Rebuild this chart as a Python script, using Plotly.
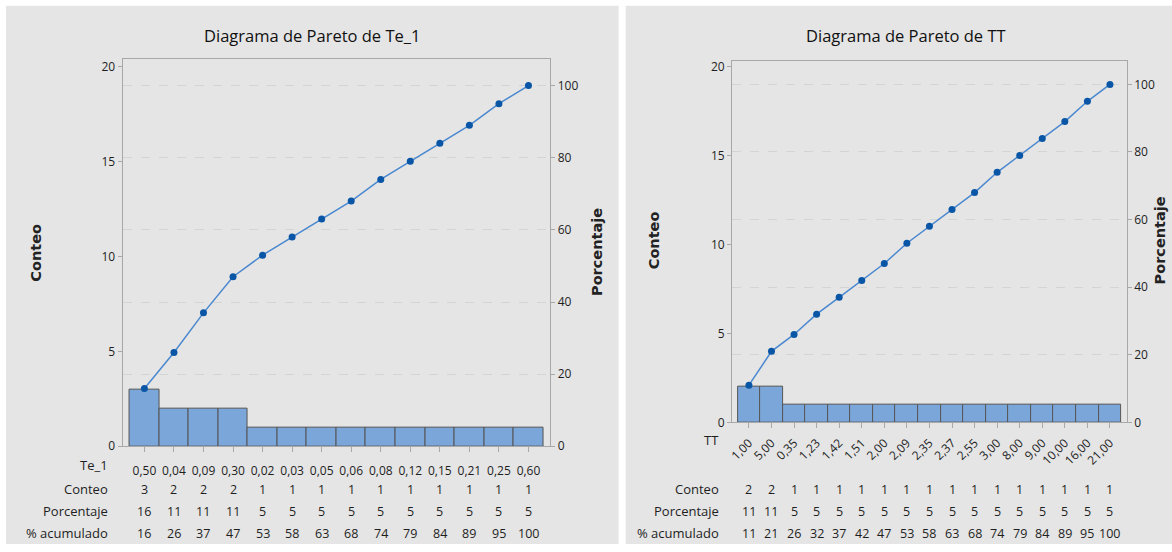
import plotly.graph_objects as go

W, H = 1172, 552

# ---------------- data ----------------
te1_labels = ['0,50', '0,04', '0,09', '0,30', '0,02', '0,03', '0,05', '0,06',
              '0,08', '0,12', '0,15', '0,21', '0,25', '0,60']
te1_counts = [3, 2, 2, 2, 1, 1, 1, 1, 1, 1, 1, 1, 1, 1]
te1_pct = [16, 11, 11, 11, 5, 5, 5, 5, 5, 5, 5, 5, 5, 5]
te1_cum = [16, 26, 37, 47, 53, 58, 63, 68, 74, 79, 84, 89, 95, 100]

tt_labels = ['1,00', '5,00', '0,35', '1,23', '1,42', '1,51', '2,00', '2,09', '2,35',
             '2,37', '2,55', '3,00', '8,00', '9,00', '10,00', '16,00', '21,00']
tt_counts = [2, 2, 1, 1, 1, 1, 1, 1, 1, 1, 1, 1, 1, 1, 1, 1, 1]
tt_pct = [11, 11, 5, 5, 5, 5, 5, 5, 5, 5, 5, 5, 5, 5, 5, 5, 5]
tt_cum = [11, 21, 26, 32, 37, 42, 47, 53, 58, 63, 68, 74, 79, 84, 89, 95, 100]

pct_ticks = [0, 20, 40, 60, 80, 100]
count_ticks = [0, 5, 10, 15, 20]

# ---------------- style ----------------
BG = '#e5e5e5'
BAR = '#7ba6da'
BAR_EDGE = '#555555'
LINE = '#4a88cf'
MARK = '#0a56a6'
AXIS = '#a8a8a8'
TXT = '#1e1e1e'
FONT = 'Open Sans'
BOLD = 'DejaVu Sans'


def cx(x):
    # layout position (pixels) -> corrected pixel
    return x + 5 * (x - 586) / 586


def cy(y):
    return (y - 2.3) / 0.981


def px(x):
    return cx(x) / W


def py(y):
    return 1 - cy(y) / H


fig = go.Figure()

# left chart
fig.add_trace(go.Bar(x=list(range(len(te1_labels))), y=te1_counts, width=1,
                     marker=dict(color=BAR, line=dict(color=BAR_EDGE, width=1)),
                     xaxis='x', yaxis='y', showlegend=False))
fig.add_trace(go.Scatter(x=list(range(len(te1_labels))), y=te1_cum, mode='lines+markers',
                         line=dict(color=LINE, width=1.5),
                         marker=dict(color=MARK, size=7),
                         xaxis='x', yaxis='y2', showlegend=False))
# right chart
fig.add_trace(go.Bar(x=list(range(len(tt_labels))), y=tt_counts, width=1,
                     marker=dict(color=BAR, line=dict(color=BAR_EDGE, width=1)),
                     xaxis='x2', yaxis='y3', showlegend=False))
fig.add_trace(go.Scatter(x=list(range(len(tt_labels))), y=tt_cum, mode='lines+markers',
                         line=dict(color=LINE, width=1.5),
                         marker=dict(color=MARK, size=7),
                         xaxis='x2', yaxis='y4', showlegend=False))

# plot boxes (pixel positions) and where the "20" count tick sits
L_TOP, L_BOT, L_LEFT, L_RIGHT, L_20 = 58, 446, 122, 548, 66
R_TOP, R_BOT, R_LEFT, R_RIGHT, R_20 = 60, 422, 729, 1122, 66
L_CMAX = 20 * (L_BOT - L_TOP) / (L_BOT - L_20)
R_CMAX = 20 * (R_BOT - R_TOP) / (R_BOT - R_20)

tickfont = dict(family=FONT, size=12, color=TXT)

common_x = dict(showline=True, linecolor=AXIS, linewidth=1, mirror=True,
                ticks='outside', ticklen=5, tickcolor=AXIS, showgrid=False,
                zeroline=False, tickfont=tickfont)
common_y = dict(showline=True, linecolor=AXIS, linewidth=1, ticks='outside',
                ticklen=4, tickcolor=AXIS, zeroline=False, tickfont=tickfont)

fig.update_layout(
    width=W, height=H,
    margin=dict(l=0, r=0, t=0, b=0),
    paper_bgcolor='white', plot_bgcolor='white',
    bargap=0,
    xaxis=dict(common_x, domain=[px(L_LEFT), px(L_RIGHT)], anchor='y',
               range=[-0.74, len(te1_labels) - 0.26],
               tickvals=list(range(len(te1_labels))), ticktext=te1_labels,
               ticklabelstandoff=8),
    yaxis=dict(common_y, domain=[py(L_BOT), py(L_TOP)], anchor='x',
               range=[0, L_CMAX], tickvals=count_ticks, showgrid=False),
    yaxis2=dict(common_y, overlaying='y', side='right', anchor='x',
                range=[0, L_CMAX / sum(te1_counts) * 100], tickvals=pct_ticks,
                showgrid=True, gridcolor='#d4d4d4', griddash='dash', gridwidth=1),
    xaxis2=dict(common_x, domain=[px(R_LEFT), px(R_RIGHT)], anchor='y3',
                range=[-0.745, len(tt_labels) - 0.255],
                tickvals=list(range(len(tt_labels))), ticktext=tt_labels,
                tickangle=-45, ticklabelstandoff=3),
    yaxis3=dict(common_y, domain=[py(R_BOT), py(R_TOP)], anchor='x2',
                range=[0, R_CMAX], tickvals=count_ticks, showgrid=False),
    yaxis4=dict(common_y, overlaying='y3', side='right', anchor='x2',
                range=[0, R_CMAX / sum(tt_counts) * 100], tickvals=pct_ticks,
                showgrid=True, gridcolor='#d4d4d4', griddash='dash', gridwidth=1),
)

# gray panels
fig.add_shape(type='rect', xref='paper', yref='paper', layer='below',
              x0=px(6), x1=px(616), y0=0, y1=py(5),
              fillcolor=BG, line=dict(width=0))
fig.add_shape(type='rect', xref='paper', yref='paper', layer='below',
              x0=px(623), x1=1, y0=0, y1=py(5),
              fillcolor=BG, line=dict(width=0))

ann = []


def txt(text, x, y, font, xref='paper', xanchor='center', angle=0):
    ann.append(dict(text=text, x=x, y=y, xref=xref, yref='paper', xanchor=xanchor,
                    yanchor='middle', textangle=angle, showarrow=False, font=font))


# titles
tfont = dict(family=FONT, size=16.5, color='#111')
txt('Diagrama de Pareto de Te_1', px(311), py(35), tfont)
txt('Diagrama de Pareto de TT', px(902), py(35), tfont)
# axis titles
axfont = dict(family=BOLD, size=14.5, color='#222', weight='bold')
for t, x, y in [('Conteo', 36, 252), ('Porcentaje', 595, 252),
                ('Conteo', 652, 240), ('Porcentaje', 1156, 240)]:
    txt(t, px(x), py(y), axfont, angle=-90)

rowfont = dict(family=FONT, size=13, color=TXT)
valfont = dict(family=FONT, size=12.5, color=TXT)
# row labels
txt('Te_1', px(110), py(465), rowfont, xanchor='right')
txt('TT', px(718), py(440), rowfont, xanchor='right')
rows_y = [489, 511, 533]
row_names = ['Conteo', 'Porcentaje', '% acumulado']
for name, yy in zip(row_names, rows_y):
    txt(name, px(110), py(yy), rowfont, xanchor='right')
    txt(name, px(718), py(yy), rowfont, xanchor='right')

for vals, yy in zip([te1_counts, te1_pct, te1_cum], rows_y):
    for i, v in enumerate(vals):
        txt(str(v), i, py(yy), valfont, xref='x')
for vals, yy in zip([tt_counts, tt_pct, tt_cum], rows_y):
    for i, v in enumerate(vals):
        txt(str(v), i, py(yy), valfont, xref='x2')

fig.update_layout(annotations=ann)

fig.write_html("out.html", config={'displayModeBar': False},
               post_script="document.body.style.margin='0';document.body.style.overflow='hidden';")
